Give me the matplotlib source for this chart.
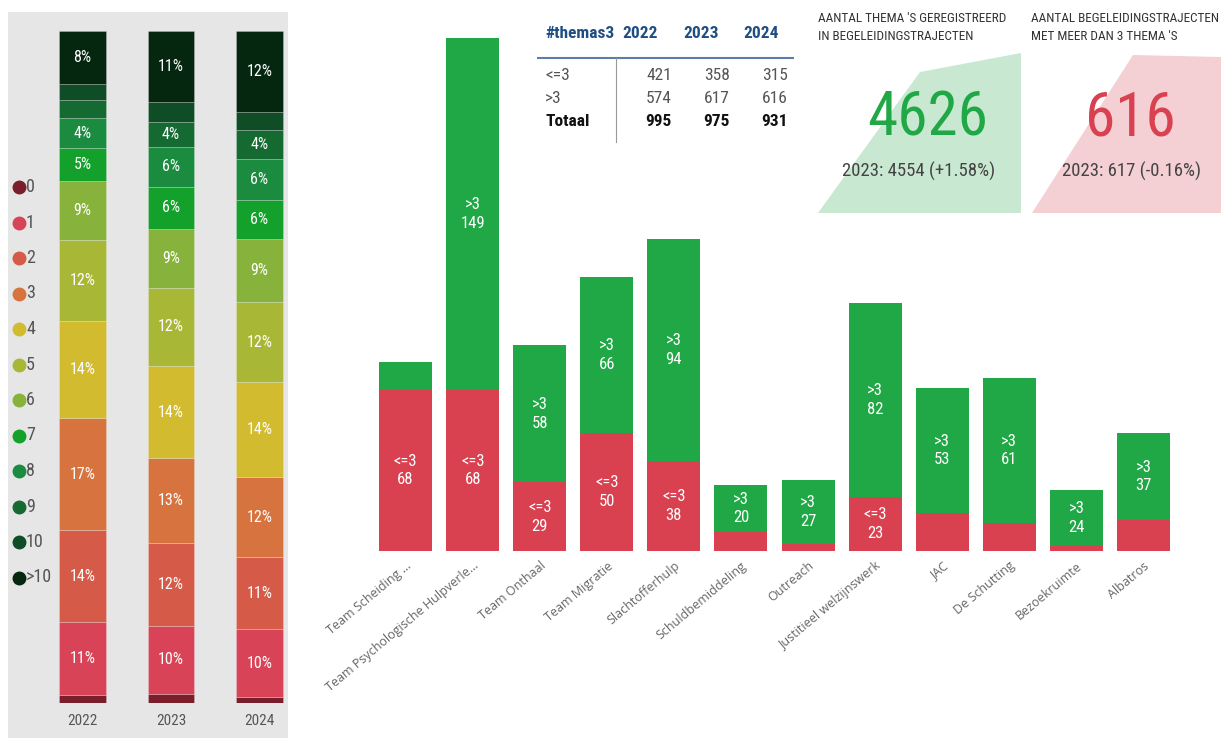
import matplotlib.pyplot as plt
from matplotlib.patches import Rectangle, Polygon
from matplotlib.lines import Line2D

# left panel: share of trajectories per number of themes (%)
years = ['2022', '2023', '2024']
levels = ['0', '1', '2', '3', '4', '5', '6', '7', '8', '9', '10', '>10']
share_2022 = [1.2, 10.8, 13.7, 16.7, 14.4, 12.1, 8.8, 4.9, 4.4, 2.7, 2.4, 7.9]
share_2023 = [1.3, 10.2, 12.3, 12.6, 13.8, 11.6, 8.8, 6.2, 6.0, 3.6, 3.0, 10.6]
share_2024 = [0.9, 10.1, 10.7, 11.9, 14.1, 12.0, 9.4, 5.8, 6.1, 4.3, 2.7, 12.0]
level_colors = ['#7b1e2c', '#d84357', '#d65a48', '#d6733f', '#d2bb2f', '#a9b737',
                '#87b23b', '#13a12b', '#1b8b3f', '#156a32', '#0e4d25', '#05260f']

# main chart: trajectories per team
teams = ['Team Scheiding ...', 'Team Psychologische Hulpverle...', 'Team Onthaal',
         'Team Migratie', 'Slachtofferhulp', 'Schuldbemiddeling', 'Outreach',
         'Justitieel welzijnswerk', 'JAC', 'De Schutting', 'Bezoekruimte', 'Albatros']
low = [68, 68, 29, 50, 38, 8, 3, 23, 16, 12, 2, 13]
high = [12, 149, 58, 66, 94, 20, 27, 82, 53, 61, 24, 37]

# table
table_rows = ['<=3', '>3', 'Totaal']
table_2022 = [421, 574, 995]
table_2023 = [358, 617, 975]
table_2024 = [315, 616, 931]

# kpi cards
themes_2024, themes_2023 = 4626, 4554
multi_2024, multi_2023 = 616, 617

narrow = ['Roboto Condensed', 'Roboto', 'DejaVu Sans']
red = '#d94050'
green = '#1fa845'

fig = plt.figure(figsize=(12.21, 7.38), dpi=100)
W, H = 1221, 738

# gray background of left panel
fig.add_artist(Rectangle((8 / W, 0), 280 / W, (H - 12) / H, transform=fig.transFigure,
                         facecolor='#e6e6e6', edgecolor='none', zorder=-5))

# ---- left stacked percentage bars
axl = fig.add_axes([38.25 / W, 35 / H, 265.5 / W, 672 / H])
axl.set_facecolor('none')
shares = [share_2022, share_2023, share_2024]
for i in range(len(years)):
    bottom = 0
    for j in range(len(levels)):
        v = shares[i][j]
        axl.bar(i, v, bottom=bottom, width=0.53, color=level_colors[j],
                edgecolor=(1, 1, 1, 0.25), linewidth=0.6)
        if v >= 3.5:
            axl.text(i, bottom + v / 2, f'{v:.0f}%', ha='center', va='center',
                     color='white', fontsize=11.5, family=narrow)
        bottom += v
axl.set_xlim(-0.5, 2.5)
axl.set_ylim(0, 100)
axl.set_xticks(range(len(years)))
axl.set_xticklabels(years, fontsize=11, color='#555555', family=narrow)
axl.tick_params(length=0, pad=8)
axl.set_yticks([])
for s in axl.spines.values():
    s.set_visible(False)

# ---- main stacked bars
ax = fig.add_axes([372 / W, (H - 551) / H, 805 / W, 520 / H])
ax.set_facecolor('none')
x = range(len(teams))
ax.bar(x, low, width=0.79, color=red)
ax.bar(x, high, bottom=low, width=0.79, color=green)
for i in x:
    if low[i] >= 18:
        ax.text(i, low[i] / 2, f'<=3\n{low[i]}', ha='center', va='center',
                color='white', fontsize=12, family=narrow, linespacing=1.3)
    if high[i] >= 18:
        ax.text(i, low[i] + high[i] / 2, f'>3\n{high[i]}', ha='center', va='center',
                color='white', fontsize=12, family=narrow, linespacing=1.3)
ax.set_xlim(-0.5, len(teams) - 0.5)
ax.set_ylim(0, 220)
ax.set_xticks(list(x))
ax.set_xticklabels(teams, rotation=40, ha='right', rotation_mode='anchor',
                   fontsize=9, color='#666666', family=['Open Sans', 'DejaVu Sans'])
ax.tick_params(length=0, pad=6)
ax.set_yticks([])
for s in ax.spines.values():
    s.set_visible(False)

# ---- overlay in pixel coordinates: legend, table, kpi cards
ov = fig.add_axes([0, 0, 1, 1])
ov.set_xlim(0, W)
ov.set_ylim(H, 0)
ov.axis('off')

for j, lev in enumerate(levels):
    yy = 187 + j * 35.5
    ov.add_line(Line2D([19], [yy], marker='o', markersize=9, color=level_colors[j]))
    ov.text(26, yy, lev, ha='left', va='center', fontsize=13, color='#555555', family=narrow)

# table
hdr = '#1f4f82'
ov.text(545, 33, '#themas3', ha='left', va='center', fontsize=12.5, weight='bold',
        color=hdr, family=narrow)
col_left = [622, 683, 743]
col_right = [672, 730, 788]
for k, yr in enumerate(years):
    ov.text(col_left[k], 33, yr, ha='left', va='center', fontsize=12.5, weight='bold',
            color=hdr, family=narrow)
ov.plot([538, 793], [58, 58], color='#5b7fa6', lw=1.5)
ov.plot([616, 616], [58, 142], color='#999999', lw=0.8)
cols = [table_2022, table_2023, table_2024]
for r, name in enumerate(table_rows):
    yy = 75 + r * 23.5
    bold = name == 'Totaal'
    c = '#111111' if bold else '#555555'
    ov.text(545, yy, name, ha='left', va='center', fontsize=12.5,
            weight='bold' if bold else 'normal', color=c, family=narrow)
    for k in range(3):
        ov.text(col_right[k], yy, str(cols[k][r]), ha='right', va='center', fontsize=12.5,
                weight='bold' if bold else 'normal', color=c, family=narrow)

# kpi 1
ov.add_patch(Polygon([(818, 213), (920, 72), (1021, 53), (1021, 213)],
                     facecolor='#c9e8d1', edgecolor='none'))
ov.text(818, 19, "AANTAL THEMA 'S GEREGISTREERD", ha='left', va='center',
        fontsize=9.5, color='#333333', family=narrow)
ov.text(818, 37, 'IN BEGELEIDINGSTRAJECTEN', ha='left', va='center',
        fontsize=9.5, color='#333333', family=narrow)
ov.text(928, 118, str(themes_2024), ha='center', va='center', fontsize=44,
        color=green, family=narrow)
pct1 = (themes_2024 - themes_2023) / themes_2023 * 100
ov.text(919, 171, f'2023: {themes_2023} ({pct1:+.2f}%)', ha='center', va='center',
        fontsize=13.5, color='#444444', family=narrow)

# kpi 2
ov.add_patch(Polygon([(1032, 213), (1133, 55), (1221, 57), (1221, 213)],
                     facecolor='#f4cfd4', edgecolor='none'))
ov.text(1031, 19, 'AANTAL BEGELEIDINGSTRAJECTEN', ha='left', va='center',
        fontsize=9.5, color='#333333', family=narrow)
ov.text(1031, 37, "MET MEER DAN 3 THEMA 'S", ha='left', va='center',
        fontsize=9.5, color='#333333', family=narrow)
ov.text(1130, 118, str(multi_2024), ha='center', va='center', fontsize=44,
        color=red, family=narrow)
pct2 = (multi_2024 - multi_2023) / multi_2023 * 100
ov.text(1132, 171, f'2023: {multi_2023} ({pct2:+.2f}%)', ha='center', va='center',
        fontsize=13.5, color='#444444', family=narrow)

fig.savefig('out.png', dpi=100)
